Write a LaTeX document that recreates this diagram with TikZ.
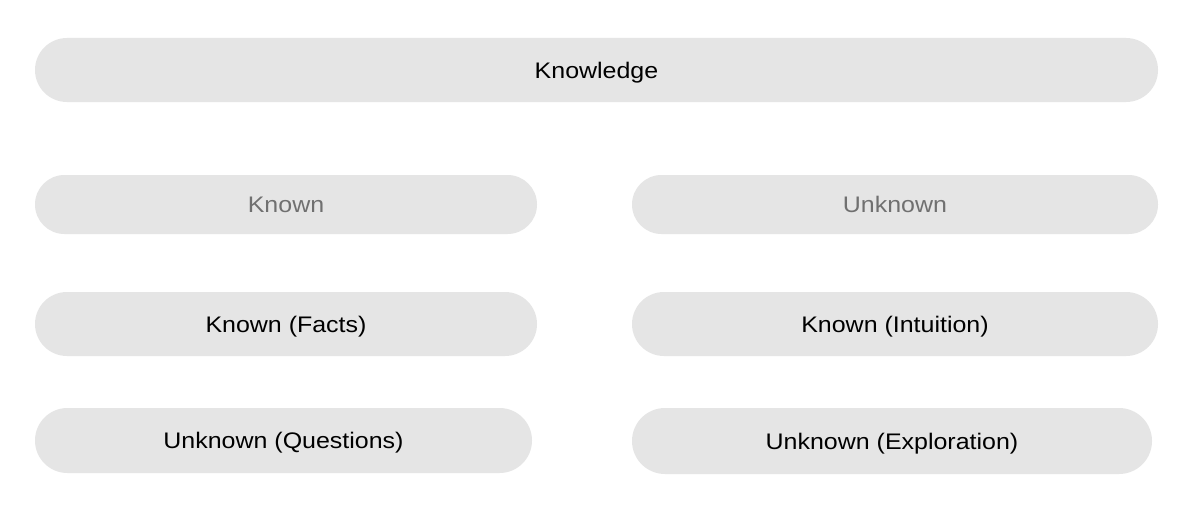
\documentclass[tikz,border=0pt]{standalone}
\usepackage{fontspec}
\setmainfont{Liberation Sans}[FakeStretch=1.11]
\definecolor{pill}{RGB}{229,229,229}
\definecolor{dimtext}{RGB}{112,112,112}
\begin{document}
\begin{tikzpicture}[x=1pt,y=-1pt,
  pillbox/.style={rectangle, fill=pill, draw=none, inner sep=0pt,
    font=\fontsize{22.5}{26}\selectfont, text=black, text height=16pt, text depth=0pt},
  dimbox/.style={pillbox, text=dimtext}]
\useasboundingbox[fill=white] (0,0) rectangle (1193,511);
\node[pillbox, minimum width=1123, minimum height=64, rounded corners=32] (knowledge) at (596.5,70) {Knowledge};
\node[dimbox, minimum width=502, minimum height=59, rounded corners=29.5] (known) at (286,204.5) {Known};
\node[dimbox, minimum width=526, minimum height=59, rounded corners=29.5] (unknown) at (895,204.5) {Unknown};
\node[pillbox, minimum width=502, minimum height=64, rounded corners=32] (facts) at (286,324) {Known (Facts)};
\node[pillbox, minimum width=526, minimum height=64, rounded corners=32] (intuition) at (895,324) {Known (Intuition)};
\node[pillbox, minimum width=497, minimum height=65, rounded corners=32.5] (questions) at (283.5,440.5) {Unknown (Questions)};
\node[pillbox, minimum width=520, minimum height=66, rounded corners=33] (exploration) at (892,441) {Unknown (Exploration)};
\end{tikzpicture}
\end{document}
